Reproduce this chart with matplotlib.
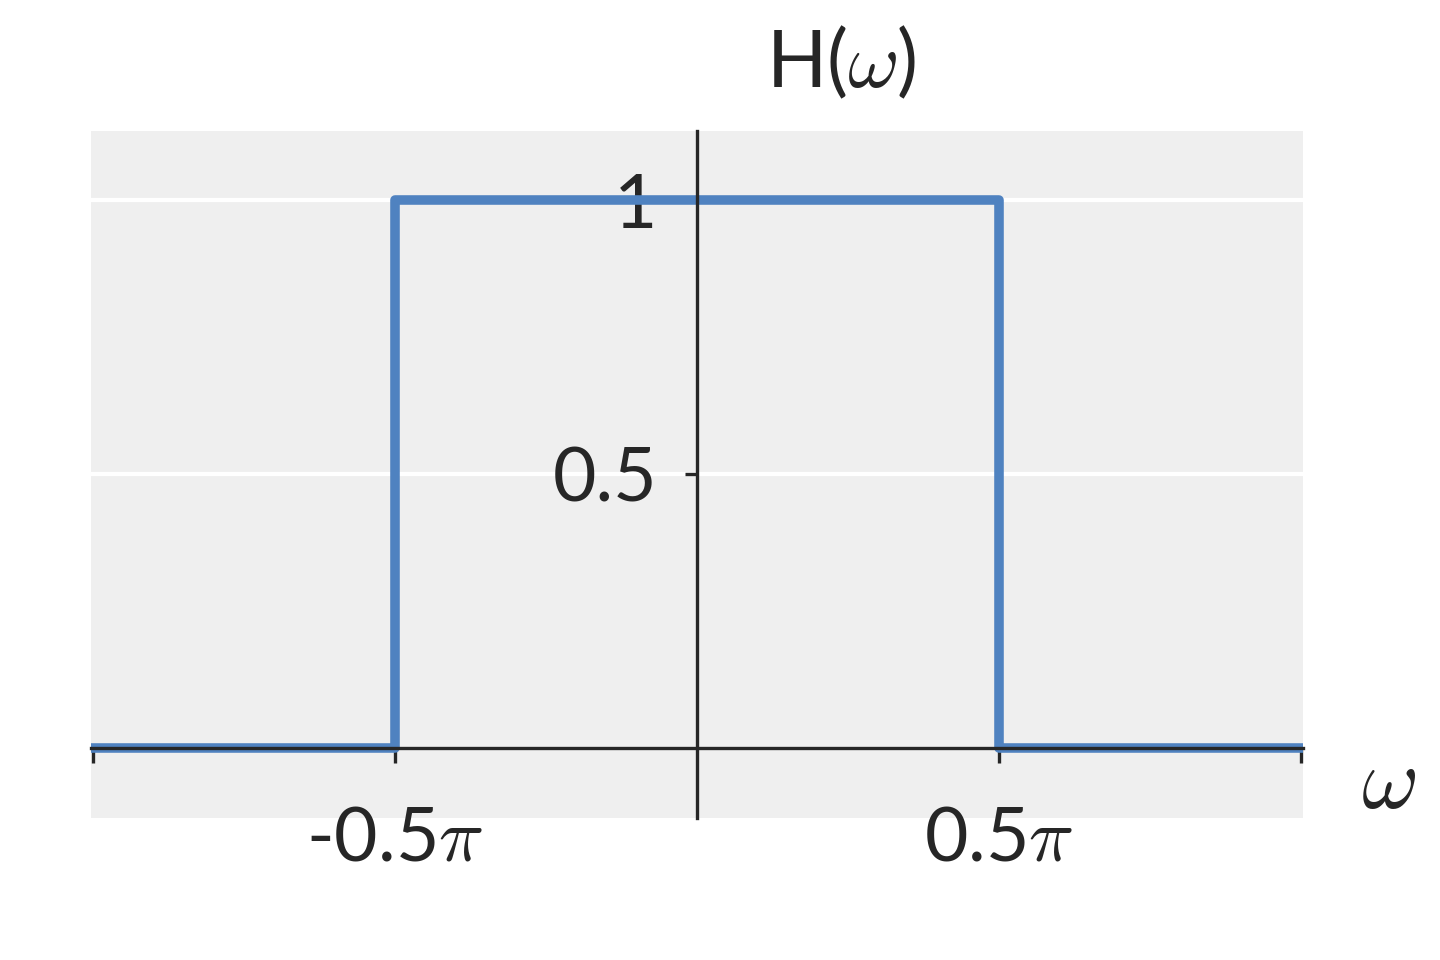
import numpy as np
import matplotlib.pyplot as plt

# ideal low-pass filter, cutoff 0.5*pi
w_pts = [-1.0, -0.5, -0.5, 0.5, 0.5, 1.0]   # in units of pi
h_pts = [0, 0, 1, 1, 0, 0]
xtick_pos = [-1.0, -0.5, 0.5, 1.0]
xtick_lbl = ['', r'-0.5$\pi$', r'0.5$\pi$', '']
ytick_pos = [0.5, 1.0]
ytick_lbl = ['0.5', '1']

plt.rcParams['font.family'] = ['Lato', 'DejaVu Sans']
plt.rcParams['mathtext.fontset'] = 'cm'
plt.rcParams['font.size'] = 18
plt.rcParams['text.color'] = '#262626'
plt.rcParams['xtick.color'] = '#262626'
plt.rcParams['ytick.color'] = '#262626'

fig = plt.figure(figsize=(4.8, 3.2), dpi=300)
ax = fig.add_axes([0.063, 0.148, 0.842, 0.7155])
ax.set_facecolor('#efefef')

x = np.array(w_pts) * np.pi
ax.plot(x, h_pts, color='#4f82c0', lw=2.3, zorder=2)

ax.set_xlim(-np.pi * 1.0035, np.pi * 1.0035)
ax.set_ylim(-0.128, 1.126)

for s in ['top', 'right']:
    ax.spines[s].set_visible(False)
for s in ['left', 'bottom']:
    ax.spines[s].set_position(('data', 0))
    ax.spines[s].set_color('#262626')
    ax.spines[s].set_linewidth(0.8)
    ax.spines[s].set_zorder(3)

ax.set_xticks(np.array(xtick_pos) * np.pi)
ax.set_xticklabels(xtick_lbl)
ax.set_yticks(ytick_pos)
ax.set_yticklabels(ytick_lbl)
ax.tick_params(axis='x', direction='out', length=3.5, width=0.8, pad=10)
ax.tick_params(axis='y', direction='out', length=3.0, width=0.8, pad=6.5)

ax.yaxis.grid(True, color='white', lw=1.0, zorder=1)
ax.set_axisbelow(True)

ax.text(1.07, 0.05, r'$\omega$', transform=ax.transAxes, fontsize=21,
        ha='center', va='center')
ax.text(0.619, 1.1, r'H($\omega$)', transform=ax.transAxes, fontsize=19,
        ha='center', va='center')

fig.savefig('out.png', dpi=300)
